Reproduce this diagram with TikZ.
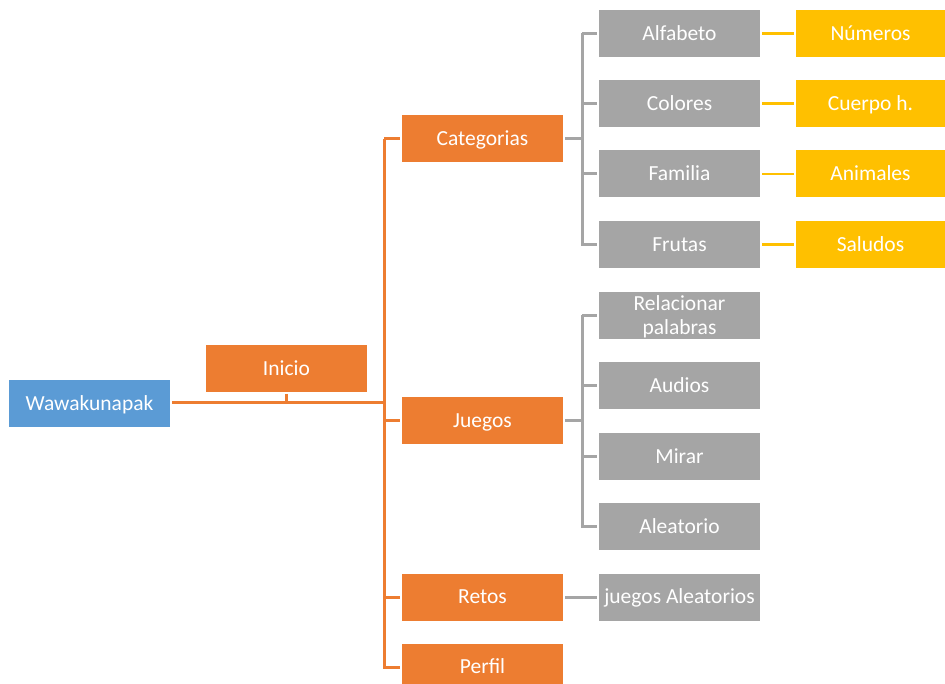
\documentclass[tikz,border=0pt]{standalone}
\usepackage{fontspec}
\setmainfont{Carlito}
\definecolor{rootblue}{HTML}{5B9BD5}
\definecolor{mainorange}{HTML}{ED7D31}
\definecolor{subgray}{HTML}{A5A5A5}
\definecolor{extrayellow}{HTML}{FFC000}
\begin{document}
\begin{tikzpicture}
		[x=1pt,y=-1pt,
		box/.style={minimum width=161pt,minimum height=47pt,inner sep=0pt,
			outer sep=2pt,text=white,align=center,text height=13.8pt,text depth=0pt,
			font=\fontsize{21.5}{24}\selectfont},
		root/.style={box,fill=rootblue},
		main/.style={box,fill=mainorange},
		sub/.style={box,fill=subgray},
		extra/.style={box,fill=extrayellow,minimum width=149pt},
		oline/.style={draw=mainorange,line width=3pt},
		gline/.style={draw=subgray,line width=3pt},
		yline/.style={draw=extrayellow,line width=2.6pt}]
		\useasboundingbox (0,0) rectangle (945,684);
		% root and first level
		\node[root] (wawa) at (89.5,403.5) {Wawakunapak};
		\node[main] (inicio) at (286.5,368.5) {Inicio};
		\node[main] (cat) at (482.5,139) {Categorias};
		\node[main] (juegos) at (482.5,420.5) {Juegos};
		\node[main] (retos) at (482.5,597) {Retos};
		\node[main] (perfil) at (482.5,667) {Perfil};
		% second level
		\node[sub] (alfabeto) at (679.5,33.5) {Alfabeto};
		\node[sub] (colores) at (679.5,103.5) {Colores};
		\node[sub] (familia) at (679.5,174) {Familia};
		\node[sub] (frutas) at (679.5,244.5) {Frutas};
		\node[sub,text height=37.8pt] (relacionar) at (679.5,315.5) {Relacionar\\palabras};
		\node[sub] (audios) at (679.5,385.5) {Audios};
		\node[sub] (mirar) at (679.5,456.5) {Mirar};
		\node[sub] (aleatorio) at (679.5,526.5) {Aleatorio};
		\node[sub] (jalea) at (679.5,597) {juegos Aleatorios};
		% third level
		\node[extra] (numeros) at (870.5,33.5) {Números};
		\node[extra] (cuerpo) at (870.5,103.5) {Cuerpo h.};
		\node[extra] (animales) at (870.5,174) {Animales};
		\node[extra] (saludos) at (870.5,244.5) {Saludos};
		% connectors
		\coordinate (ospine) at (384,403);
		\coordinate (gspine) at (582,0);
		\draw[oline] (wawa.east |- ospine) -- (ospine);
		\draw[oline] (inicio.south) -- (inicio.south |- ospine);
		\draw[oline] (ospine |- cat.west) -- (ospine |- perfil.west) -- (perfil.west);
		\foreach \n in {cat,juegos,retos}
			\draw[oline] (ospine |- \n.west) -- (\n.west);
		\draw[gline] (cat.east) -- (gspine |- cat.east);
		\draw[gline] (gspine |- alfabeto.west) -- (gspine |- frutas.west) -- (frutas.west);
		\foreach \n in {alfabeto,colores,familia}
			\draw[gline] (gspine |- \n.west) -- (\n.west);
		\draw[gline] (juegos.east) -- (gspine |- juegos.east);
		\draw[gline] (gspine |- relacionar.west) -- (gspine |- aleatorio.west) -- (aleatorio.west);
		\foreach \n in {relacionar,audios,mirar}
			\draw[gline] (gspine |- \n.west) -- (\n.west);
		\draw[gline] (retos.east) -- (jalea.west);
		\draw[yline] (alfabeto.east) -- (numeros.west);
		\draw[yline] (colores.east) -- (cuerpo.west);
		\draw[yline] (familia.east) -- (animales.west);
		\draw[yline] (frutas.east) -- (saludos.west);
	\end{tikzpicture}
\end{document}
